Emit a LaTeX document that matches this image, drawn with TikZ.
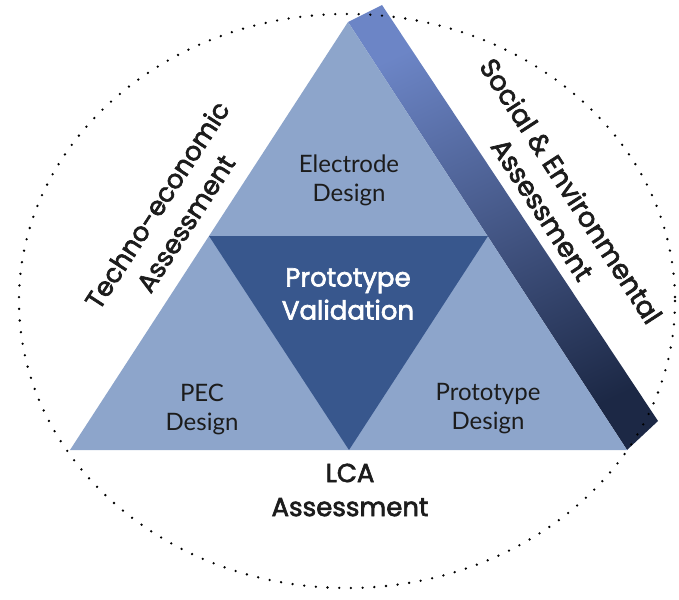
\documentclass[tikz,border=0pt]{standalone}
\usepackage{fontspec}
\setmainfont{Lato}
\newfontfamily\headfont{Poppins}[FakeBold=2.5]

\definecolor{facelight}{HTML}{8DA5CB}
\definecolor{facedark}{HTML}{38578D}
\definecolor{bevtop}{HTML}{6C85C6}
\definecolor{bevmid}{HTML}{33559A}
\definecolor{bevbot}{HTML}{1C2845}
\definecolor{ink}{HTML}{1C1C1C}

\tikzset{
  part/.style={font=\fontsize{24}{29}\selectfont, text=ink, align=center},
  core/.style={font=\headfont\fontsize{26}{33}\selectfont, text=white, align=center},
  pillar/.style={font=\headfont\fontsize{26}{34}\selectfont, text=ink, align=center},
}

\begin{document}
\begin{tikzpicture}[x=1pt,y=-1pt]
\useasboundingbox (0,0) rectangle (679,599);

% Ecken
\coordinate (top) at (348,22);
\coordinate (bl) at (70,450);
\coordinate (br) at (627,450);
\coordinate (backtop) at (382,5);
\coordinate (backbr) at (658,421);
\coordinate (ml) at (209,236);
\coordinate (mr) at (488,236);
\coordinate (mb) at (349,450);

% Seitenflaeche
\shade[top color=bevtop, middle color=bevmid, bottom color=bevbot, shading angle=25]
  (top) -- (backtop) -- (backbr) -- (br) -- cycle;

% Dreiecke
\fill[facelight] (top) -- (bl) -- (br) -- cycle;
\fill[facedark] (ml) -- (mr) -- (mb) -- cycle;

% Rahmen
\draw[black, line width=2.6pt, line cap=round, dash pattern=on 0pt off 11.7pt]
  (347,301) ellipse [x radius=328, y radius=287];

% Texte
\node[part] (electrode) at (349,180) {Electrode\\Design};
\node[part] (pec) at (202,409) {PEC\\Design};
\node[part] (protodesign) at (488,409) {Prototype\\Design};
\node[core] (validation) at (348,294) {Prototype\\Validation};
\node[pillar] (lca) at (350,490) {LCA\\Assessment};
\node[pillar, rotate=57] (techno) at (171,214) {Techno-economic\\Assessment};
\node[pillar, rotate=-57, font=\headfont\fontsize{27}{34}\selectfont] (social) at (557,200) {Social \& Environmental\\Assessment};
\end{tikzpicture}
\end{document}
